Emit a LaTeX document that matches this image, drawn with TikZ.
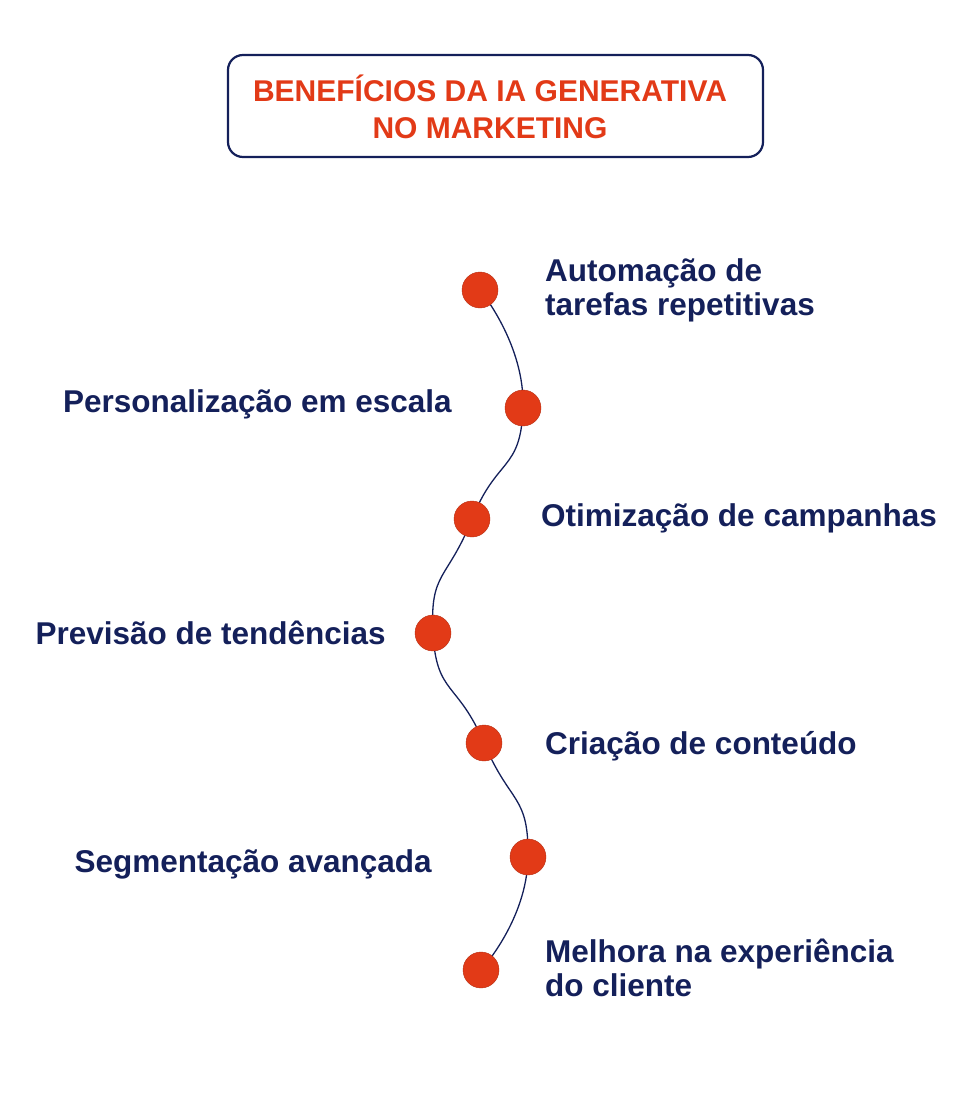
\documentclass[tikz,border=0pt]{standalone}
\usepackage{fontspec}
\setmainfont{Liberation Sans}
\definecolor{navy}{HTML}{14205A}
\definecolor{orng}{HTML}{E23A17}
\begin{document}
\begin{tikzpicture}[x=1pt,y=-1pt,
  dot/.style={circle,fill=orng,draw=orng!80!black,line width=0.4pt,minimum size=36pt,inner sep=0pt},
  lbl/.style={text=navy,font=\bfseries\fontsize{31.5}{34}\selectfont,align=left,inner sep=0pt}]
\useasboundingbox (0,0) rectangle (980,1098);
\node[draw=navy,line width=2.2pt,rounded corners=15pt,minimum width=535pt,minimum height=102pt] (title) at (495.5,106) {};
\node[text=orng,font=\bfseries\fontsize{30}{37}\selectfont,align=center] (tt) at (490,107) {BENEFÍCIOS DA IA GENERATIVA\\NO MARKETING};
\coordinate (c1) at (480,290);
\coordinate (c2) at (523,408);
\coordinate (c3) at (472,519);
\coordinate (c4) at (433,633);
\coordinate (c5) at (484,743);
\coordinate (c6) at (528,857);
\coordinate (c7) at (481,970);
\draw[navy,line width=1.3pt] plot[smooth,tension=1] coordinates {(c1) (c2) (c3) (c4) (c5) (c6) (c7)};
\foreach \i in {1,...,7} \node[dot] (d\i) at (c\i) {};
\node[lbl,anchor=west] (l1) at (545,290) {Automação de\\tarefas repetitivas};
\node[lbl,anchor=east] (l2) at (452,404) {Personalização em escala};
\node[lbl,anchor=west] (l3) at (541,518) {Otimização de campanhas};
\node[lbl,anchor=east] (l4) at (386,633) {Previsão de tendências};
\node[lbl,anchor=west] (l5) at (545,746) {Criação de conteúdo};
\node[lbl,anchor=east] (l6) at (432,864) {Segmentação avançada};
\node[lbl,anchor=west] (l7) at (545,968) {Melhora na experiência\\do cliente};
\end{tikzpicture}
\end{document}
